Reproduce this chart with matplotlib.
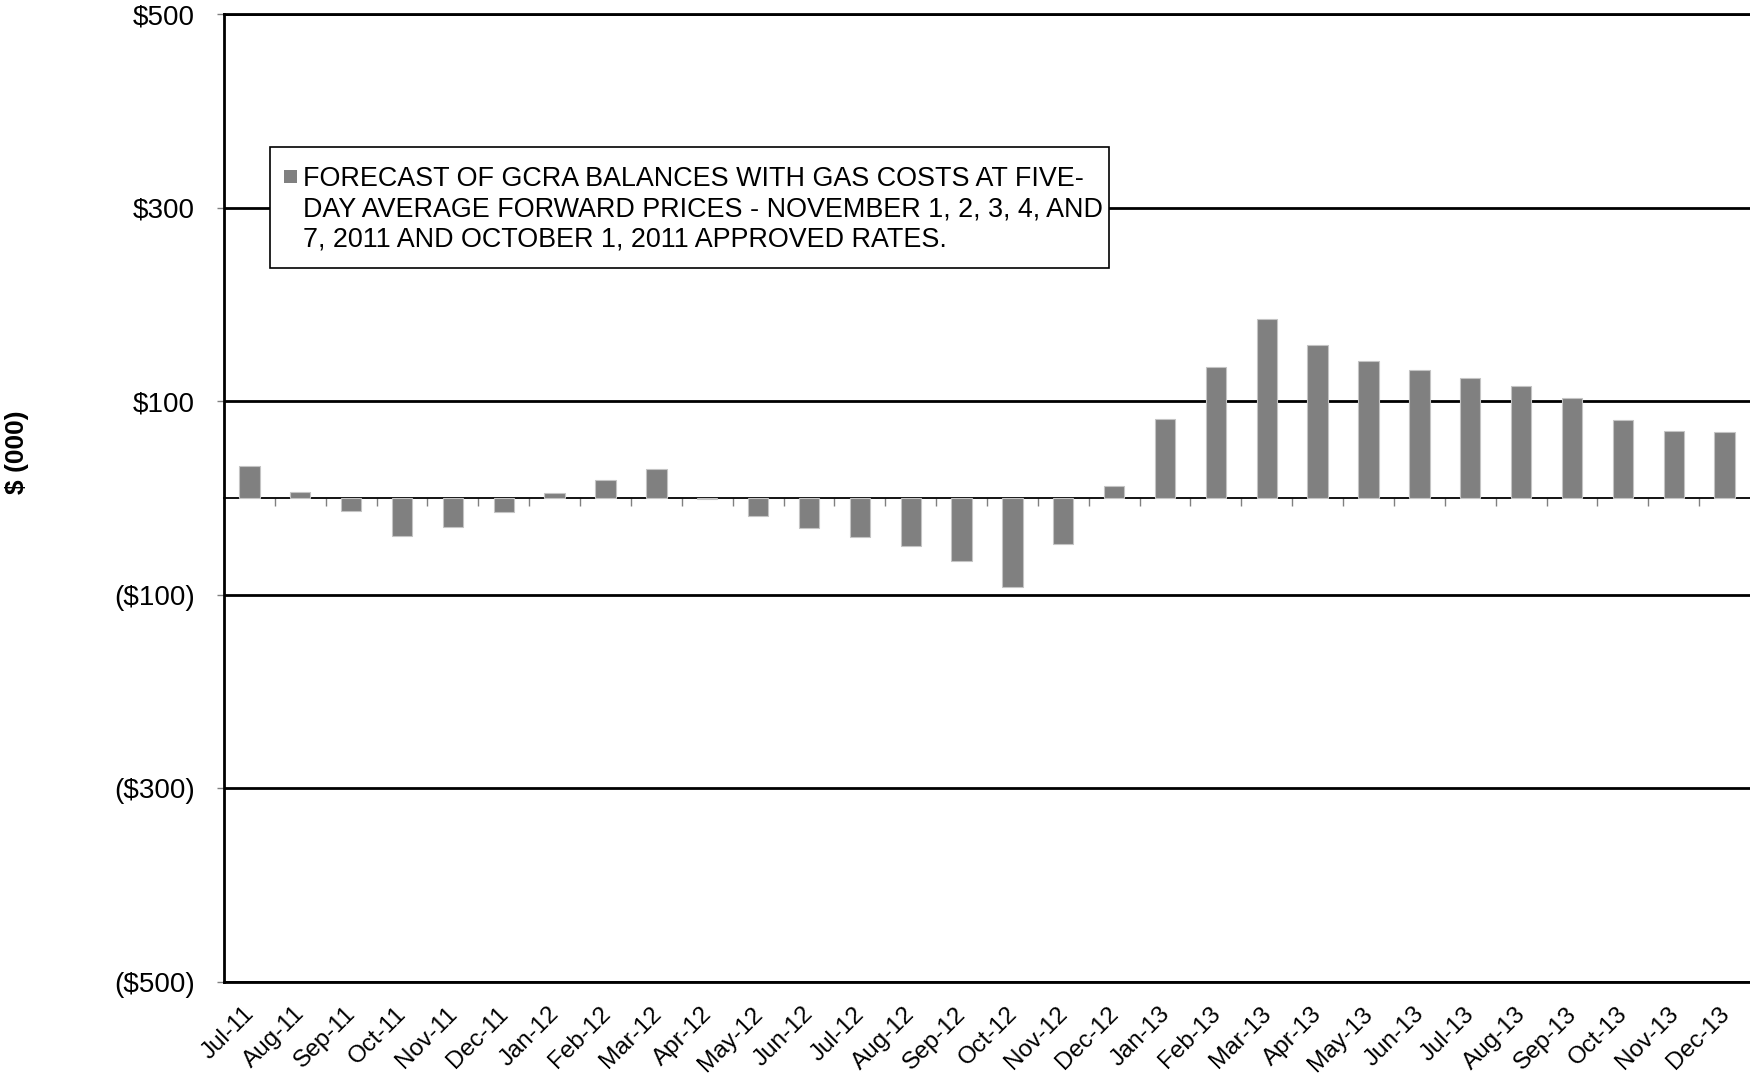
"""GCRA balance forecast bar chart, Jul-11 to Dec-13."""
import matplotlib

matplotlib.use("Agg")
import matplotlib.pyplot as plt
import matplotlib.transforms as mtransforms
import numpy as np
from matplotlib.patches import Rectangle

plt.rcParams["font.family"] = ["Liberation Sans", "DejaVu Sans"]

MONTHS = [
    "Jul-11", "Aug-11", "Sep-11", "Oct-11", "Nov-11", "Dec-11",
    "Jan-12", "Feb-12", "Mar-12", "Apr-12", "May-12", "Jun-12",
    "Jul-12", "Aug-12", "Sep-12", "Oct-12", "Nov-12", "Dec-12",
    "Jan-13", "Feb-13", "Mar-13", "Apr-13", "May-13", "Jun-13",
    "Jul-13", "Aug-13", "Sep-13", "Oct-13", "Nov-13", "Dec-13",
]
# $ (000)
BALANCES = [
    33, 6, -13, -39, -30, -14,
    5, 19, 30, -1, -19, -31,
    -40, -50, -65, -92, -47, 12,
    82, 135, 185, 158, 142, 132,
    124, 116, 103, 81, 69, 68,
]
Y_TICKS = [500, 300, 100, -100, -300, -500]
Y_LABELS = ["$500", "$300", "$100", "($100)", "($300)", "($500)"]
LEGEND_LABEL = (
    "FORECAST OF GCRA BALANCES WITH GAS COSTS AT FIVE-\n"
    "DAY AVERAGE FORWARD PRICES - NOVEMBER 1, 2, 3, 4, AND\n"
    "7, 2011 AND OCTOBER 1, 2011 APPROVED RATES."
)

BAR_COLOR = "#808080"
FIG_W, FIG_H = 1750, 1079


def fig_frac(x_px: float, y_px: float) -> tuple[float, float]:
    """Pixel position (from top-left) to figure fraction."""
    return x_px / FIG_W, 1 - y_px / FIG_H


fig = plt.figure(figsize=(FIG_W / 100, FIG_H / 100), dpi=100)
ax = fig.add_axes([0.128, 0.0899, 0.872, 0.8971])

x = np.arange(len(MONTHS))
ax.bar(x, BALANCES, width=0.4, color=BAR_COLOR, edgecolor="#c4c4c4", linewidth=0.8, zorder=3)

ax.set_xlim(-0.5, len(MONTHS) - 0.5)
ax.set_ylim(-500, 500)

# horizontal gridlines
ax.set_yticks(Y_TICKS)
ax.set_yticklabels(Y_LABELS)
ax.yaxis.grid(True, color="black", linewidth=2.0)
ax.set_axisbelow(True)
ax.tick_params(axis="y", length=5, width=1, color="#808080", pad=16, labelsize=20)

ax.set_xticks(x)
ax.set_xticklabels(MONTHS, rotation=45, ha="right", rotation_mode="default")
ax.tick_params(axis="x", length=0, pad=15, labelsize=17.5)
nudge = mtransforms.ScaledTranslation(9 / 100, 0, fig.dpi_scale_trans)
for lbl in ax.get_xticklabels():
    lbl.set_transform(lbl.get_transform() + nudge)

for side in ["left", "bottom", "top"]:
    ax.spines[side].set_linewidth(2.0)
    ax.spines[side].set_color("black")
ax.spines["right"].set_visible(False)

# zero line with category separators
zero_axis = ax.secondary_xaxis(0.5)
zero_axis.spines["top"].set_linewidth(1.3)
zero_axis.spines["top"].set_color("black")
zero_axis.set_xticks(np.arange(0.5, len(MONTHS) - 1, 1.0))
zero_axis.tick_params(direction="in", length=6, width=1, color="#808080",
                      labeltop=False, labelbottom=False)

# legend box drawn by hand so the marker sits beside the first line
x0, y0 = fig_frac(270, 268)
x1, y1 = fig_frac(1109, 147)
fig.patches.append(Rectangle((x0, y0), x1 - x0, y1 - y0, transform=fig.transFigure,
                             facecolor="white", edgecolor="black", linewidth=1.2, zorder=4))
sx0, sy0 = fig_frac(284, 183)
sx1, sy1 = fig_frac(297, 170)
fig.patches.append(Rectangle((sx0, sy0), sx1 - sx0, sy1 - sy0, transform=fig.transFigure,
                             facecolor=BAR_COLOR, edgecolor="none", zorder=5))
# baseline anchor of a multi-line text is its last line
tx, ty = fig_frac(303, 247)
fig.text(tx, ty, LEGEND_LABEL, fontsize=19.4, linespacing=1.22,
         ha="left", va="baseline", zorder=6)

fig.text(17 / FIG_W, 1 - 452 / FIG_H, "$ (000)", rotation=90, fontsize=19,
         fontweight="bold", ha="center", va="center")

fig.savefig("out.png", dpi=100)
